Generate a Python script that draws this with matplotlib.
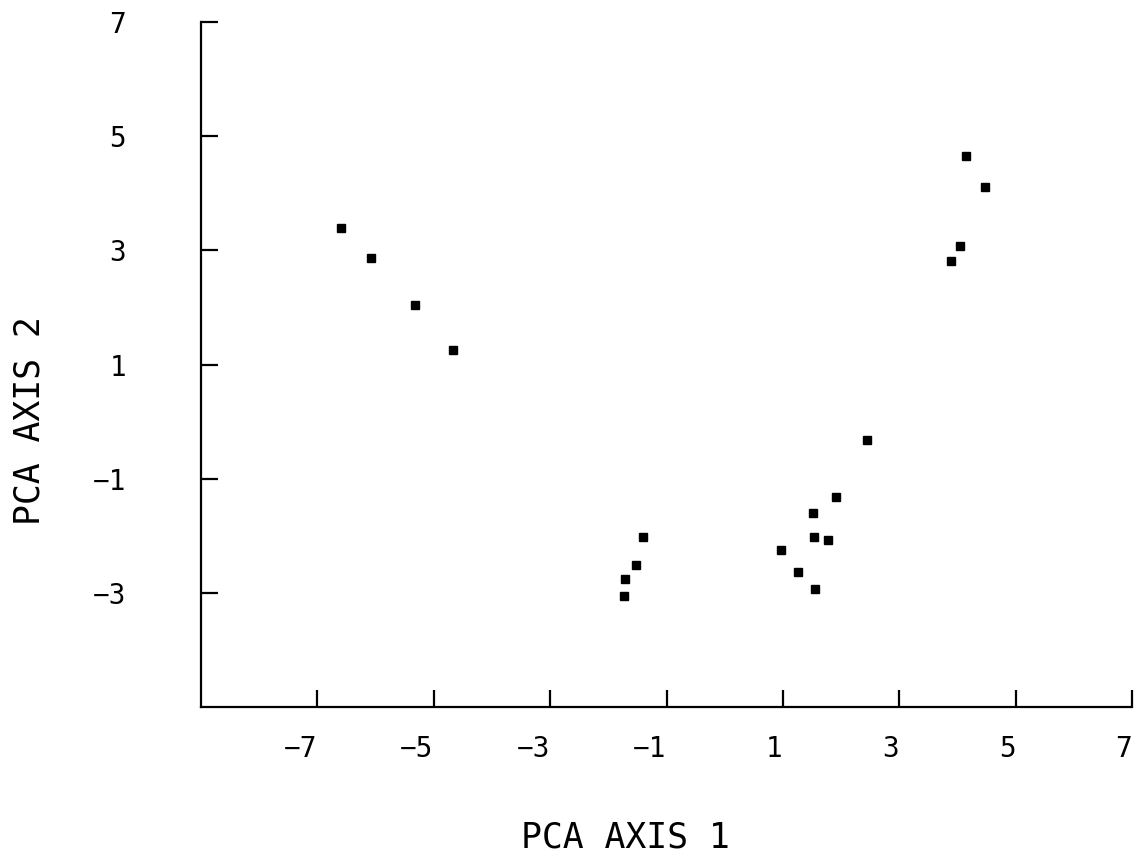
import matplotlib
matplotlib.use("Agg")
import matplotlib.pyplot as plt

# PCA scores
pca1 = [-6.59, -6.07, -5.32, -4.67,
        -1.40, -1.53, -1.71, -1.73,
        0.96, 1.26, 1.51, 1.54, 1.55, 1.78, 1.92, 2.45,
        4.15, 4.48, 4.04, 3.89]
pca2 = [3.40, 2.86, 2.04, 1.25,
        -2.02, -2.51, -2.76, -3.05,
        -2.25, -2.64, -1.61, -2.02, -2.94, -2.08, -1.32, -0.32,
        4.65, 4.11, 3.08, 2.81]

xticks = [-7, -5, -3, -1, 1, 3, 5, 7]
yticks = [7, 5, 3, 1, -1, -3]
xlabel = "PCA AXIS 1"
ylabel = "PCA AXIS 2"

font = "DejaVu Sans Mono"

fig = plt.figure(figsize=(11.4, 8.61), dpi=100)
ax = fig.add_axes([201/1140, (861-707)/861, (1132-201)/1140, (707-22)/861])

ax.plot(pca1, pca2, linestyle="none", marker="s", markersize=5.5,
        color="black")

ax.set_xlim(-9, 7)
ax.set_ylim(-5, 7)

for s in ["top", "right"]:
    ax.spines[s].set_visible(False)
for s in ["left", "bottom"]:
    ax.spines[s].set_linewidth(1.6)
    ax.spines[s].set_color("black")

ax.set_xticks(xticks)
ax.set_yticks(yticks)
ax.set_xticklabels([str(t).replace("-", "\u2212") for t in xticks],
                   fontfamily=font, fontsize=20, ha="right")
ax.set_yticklabels([str(t).replace("-", "\u2212") for t in yticks],
                   fontfamily=font, fontsize=20)
ax.tick_params(axis="x", direction="in", length=12, width=1.6, pad=20)
ax.tick_params(axis="y", direction="in", length=12, width=1.6, pad=54)

fig.text(625/1140, 1 - 837/861, xlabel, ha="center", va="center",
         fontfamily=font, fontsize=25)
fig.text(30/1140, 1 - 421/861, ylabel, ha="center", va="center",
         rotation=90, fontfamily=font, fontsize=25)

fig.savefig("out.png", dpi=100)
